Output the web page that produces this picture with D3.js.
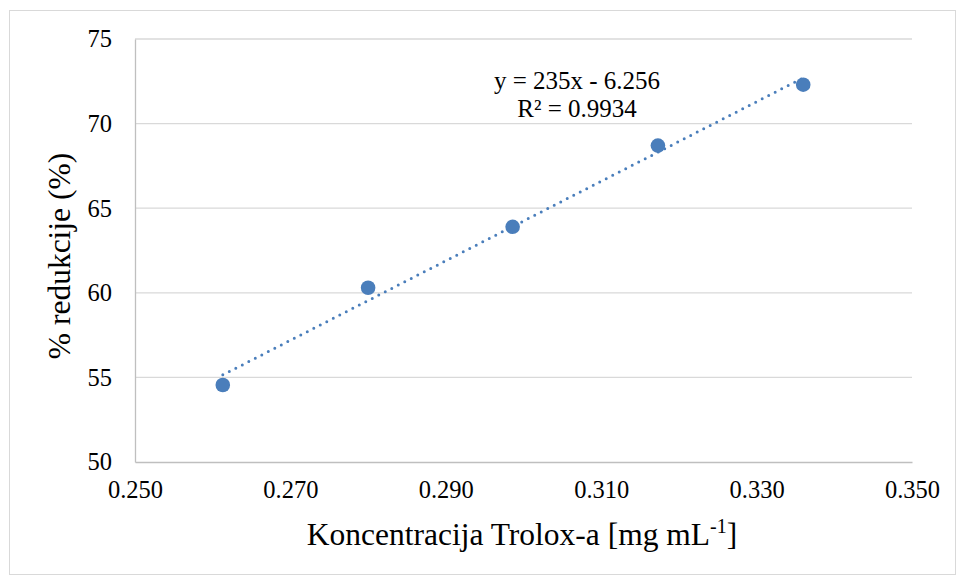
<!DOCTYPE html>
<html>
<head>
<meta charset="utf-8">
<script src="https://cdn.jsdelivr.net/npm/d3@7"></script>
<style>
	body { margin: 0; background: #fff; }
</style>
</head>
<body>
<script>
	// data
	var concentration = [0.2613, 0.2800, 0.2986, 0.3173, 0.3360];
	var reduction = [54.55, 60.3, 63.9, 68.7, 72.3];
	var xTicks = [0.250, 0.270, 0.290, 0.310, 0.330, 0.350];
	var yTicks = [50, 55, 60, 65, 70, 75];
	var trendCoef = [235, -6.256];
	var trendLabels = ["y = 235x - 6.256", "R² = 0.9934"];

	var width = 957;
	var height = 576;
	var margin = {left: 135, right: 45, top: 39, bottom: 114};
	var serif = "'Liberation Serif', 'Times New Roman', Times, serif";

	var svg = d3.select("body").append("svg")
		.attr("width", width)
		.attr("height", height)
		.style("font-family", serif);

	// chart border
	svg.append("rect")
		.attr("x", 9.5)
		.attr("y", 10.5)
		.attr("width", width - 11)
		.attr("height", height - 12)
		.attr("fill", "none")
		.attr("stroke", "#d9d9d9");

	var x = d3.scaleLinear().domain([0.25, 0.35]).range([margin.left, width - margin.right]);
	var y = d3.scaleLinear().domain([50, 75]).range([height - margin.bottom, margin.top]);

	// horizontal grid
	svg.append("g")
		.selectAll("line")
		.data(yTicks.slice(1))
		.enter().append("line")
		.attr("x1", x(0.25))
		.attr("x2", x(0.35))
		.attr("y1", function(d) { return y(d); })
		.attr("y2", function(d) { return y(d); })
		.attr("stroke", "#d9d9d9")
		.attr("stroke-width", 1.3);

	var yAxis = svg.append("g")
		.attr("transform", "translate(" + margin.left + ",0)")
		.call(d3.axisLeft(y).tickValues(yTicks).tickSize(0).tickPadding(23));
	yAxis.attr("font-family", null);
	yAxis.select(".domain").attr("stroke", "#bfbfbf").attr("stroke-width", 1.3);
	yAxis.selectAll("text").attr("font-size", "24.5px").style("font-family", serif);

	var xAxis = svg.append("g")
		.attr("transform", "translate(0," + y(50) + ")")
		.call(d3.axisBottom(x).tickValues(xTicks).tickSize(0).tickPadding(19).tickFormat(d3.format(".3f")));
	xAxis.attr("font-family", null);
	xAxis.select(".domain").attr("stroke", "#bfbfbf").attr("stroke-width", 1.3);
	xAxis.selectAll("text").attr("font-size", "24.5px").style("font-family", serif);

	// axis titles
	var xTitle = svg.append("text")
		.attr("x", 522)
		.attr("y", 545)
		.attr("text-anchor", "middle")
		.attr("font-size", "31.5px")
		.style("font-family", serif);
	xTitle.append("tspan").text("Koncentracija Trolox-a [mg mL");
	xTitle.append("tspan").attr("dy", -12).attr("font-size", "20px").text("-1");
	xTitle.append("tspan").attr("dy", 12).text("]");

	svg.append("text")
		.attr("transform", "translate(70,256) rotate(-90)")
		.attr("text-anchor", "middle")
		.attr("font-size", "31.5px")
		.style("font-family", serif)
		.text("% redukcije (%)");

	// trendline
	var xr = d3.extent(concentration);
	svg.append("line")
		.attr("x1", x(xr[0]))
		.attr("y1", y(trendCoef[0] * xr[0] + trendCoef[1]))
		.attr("x2", x(xr[1]))
		.attr("y2", y(trendCoef[0] * xr[1] + trendCoef[1]))
		.attr("stroke", "#4a7ebb")
		.attr("stroke-width", 3)
		.attr("stroke-linecap", "round")
		.attr("stroke-dasharray", "0,7.3");

	// points
	svg.append("g")
		.selectAll("circle")
		.data(concentration)
		.enter().append("circle")
		.attr("cx", function(d) { return x(d); })
		.attr("cy", function(d, i) { return y(reduction[i]); })
		.attr("r", 7.3)
		.attr("fill", "#4a7ebb");

	// equation label
	svg.append("g")
		.selectAll("text")
		.data(trendLabels)
		.enter().append("text")
		.attr("x", 577)
		.attr("y", function(d, i) { return 89 + i * 28; })
		.attr("text-anchor", "middle")
		.attr("font-size", "25px")
		.style("font-family", serif)
		.text(function(d) { return d; });
</script>
</body>
</html>
